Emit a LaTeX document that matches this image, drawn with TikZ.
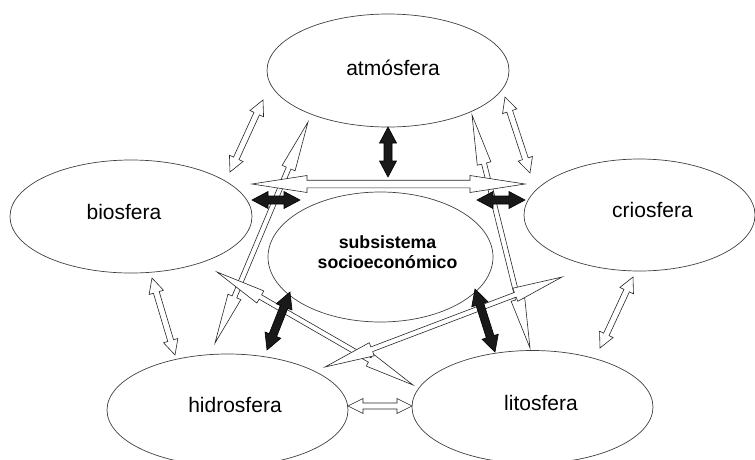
\documentclass[tikz,border=0pt]{standalone}
\usepackage{fontspec}
\setmainfont{Liberation Sans}
\usetikzlibrary{shapes.geometric,calc}
\tikzset{
  arr L/.store in=\arrL, arr H/.store in=\arrH, arr W/.store in=\arrW,
  arr L=15pt, arr H=7pt, arr W=3pt,
  sphere/.style={ellipse, draw=black!75, line width=0.7pt, inner sep=0pt},
  lbl/.style={font=\fontsize{21}{24}\selectfont, inner sep=0pt},
  sublbl/.style={font=\bfseries\fontsize{17.7}{20}\selectfont, align=center, inner sep=0pt},
  outerarr/.style={draw=black!85, fill=white, line width=0.6pt, arr L=15pt, arr H=7.5pt, arr W=3pt},
  blackarr/.style={draw=black, fill=black!90, line width=0.6pt, arr L=16pt, arr H=8.5pt, arr W=4pt},
  longarr/.style={draw=black!85, fill=white, line width=0.6pt, arr L=50pt, arr H=7pt, arr W=2.5pt},
  widearr/.style={longarr, arr L=55pt, arr H=8.5pt, arr W=3.8pt},
}
\newcommand\dblarrow[3]{%
  \pgfmathanglebetweenpoints{\pgfpointanchor{#2}{center}}{\pgfpointanchor{#3}{center}}%
  \let\arrAng\pgfmathresult
  \pgfpointdiff{\pgfpointanchor{#2}{center}}{\pgfpointanchor{#3}{center}}%
  \pgfgetlastxy{\arrDx}{\arrDy}%
  \pgfmathveclen{\arrDx}{\arrDy}%
  \let\arrLen\pgfmathresult
  \begin{scope}[shift={(#2)}, rotate=\arrAng]
    \path[#1] (0pt,0pt) -- (\arrL,\arrH) -- (\arrL,\arrW)
      -- ({\arrLen pt-\arrL},\arrW) -- ({\arrLen pt-\arrL},\arrH)
      -- (\arrLen pt,0pt)
      -- ({\arrLen pt-\arrL},{-\arrH}) -- ({\arrLen pt-\arrL},{-\arrW})
      -- (\arrL,{-\arrW}) -- (\arrL,{-\arrH}) -- cycle;
  \end{scope}}
\begin{document}
\begin{tikzpicture}[x=1pt,y=-1pt]
\useasboundingbox (0,0) rectangle (755,459);
% spheres
\node[sphere, minimum width=242pt, minimum height=113pt] (atm) at (388,70.5) {};
\node[sphere, minimum width=242pt, minimum height=113pt] (bio) at (131,216.5) {};
\node[sphere, minimum width=231pt, minimum height=112pt] (crio) at (639.5,215) {};
\node[sphere, minimum width=241pt, minimum height=112pt] (hidro) at (227.5,410) {};
\node[sphere, minimum width=241pt, minimum height=113pt] (lito) at (532.5,407) {};
\node[sphere, minimum width=225pt, minimum height=130pt] (sub) at (380.5,257) {};
% labels
\node[lbl] (tatm) at (393,68) {atmósfera};
\node[lbl] (tbio) at (124,212) {biosfera};
\node[lbl] (tcrio) at (652.5,210) {criosfera};
\node[lbl] (thidro) at (235,405) {hidrosfera};
\node[lbl] (tlito) at (541,403) {litosfera};
\node[sublbl] (tsub) at (387.5,252) {subsistema\\socioeconómico};
% arrow end points
\coordinate (o1a) at (263,100); \coordinate (o1b) at (230,172);
\coordinate (o2a) at (505,97);  \coordinate (o2b) at (530,173);
\coordinate (o3a) at (152,278); \coordinate (o3b) at (175,355);
\coordinate (o4a) at (633,277); \coordinate (o4b) at (600,348);
\coordinate (o5a) at (348,406); \coordinate (o5b) at (412,406);
\coordinate (b1a) at (388,127); \coordinate (b1b) at (388,177);
\coordinate (b2a) at (252,200); \coordinate (b2b) at (300,200);
\coordinate (b3a) at (477,200); \coordinate (b3b) at (525,200);
\coordinate (b4a) at (290,292); \coordinate (b4b) at (267,350);
\coordinate (b5a) at (475,289); \coordinate (b5b) at (495,352);
\coordinate (l1a) at (252,184); \coordinate (l1b) at (525,184);
\coordinate (l2a) at (308,122); \coordinate (l2b) at (215,343);
\coordinate (l3a) at (472,115); \coordinate (l3b) at (530,348);
\coordinate (l4a) at (217,272); \coordinate (l4b) at (413,385);
\coordinate (l5a) at (562,277); \coordinate (l5b) at (325,367);
% long arrows
\dblarrow{longarr}{l2a}{l2b}
\dblarrow{longarr}{l3a}{l3b}
\dblarrow{widearr}{l1a}{l1b}
\dblarrow{longarr}{l4a}{l4b}
\dblarrow{longarr}{l5a}{l5b}
% black arrows
\dblarrow{blackarr}{b1a}{b1b}
\dblarrow{blackarr}{b2a}{b2b}
\dblarrow{blackarr}{b3a}{b3b}
\dblarrow{blackarr}{b4a}{b4b}
\dblarrow{blackarr}{b5a}{b5b}
% outer arrows
\dblarrow{outerarr}{o1a}{o1b}
\dblarrow{outerarr}{o2a}{o2b}
\dblarrow{outerarr}{o3a}{o3b}
\dblarrow{outerarr}{o4a}{o4b}
\dblarrow{outerarr}{o5a}{o5b}
\end{tikzpicture}
\end{document}
